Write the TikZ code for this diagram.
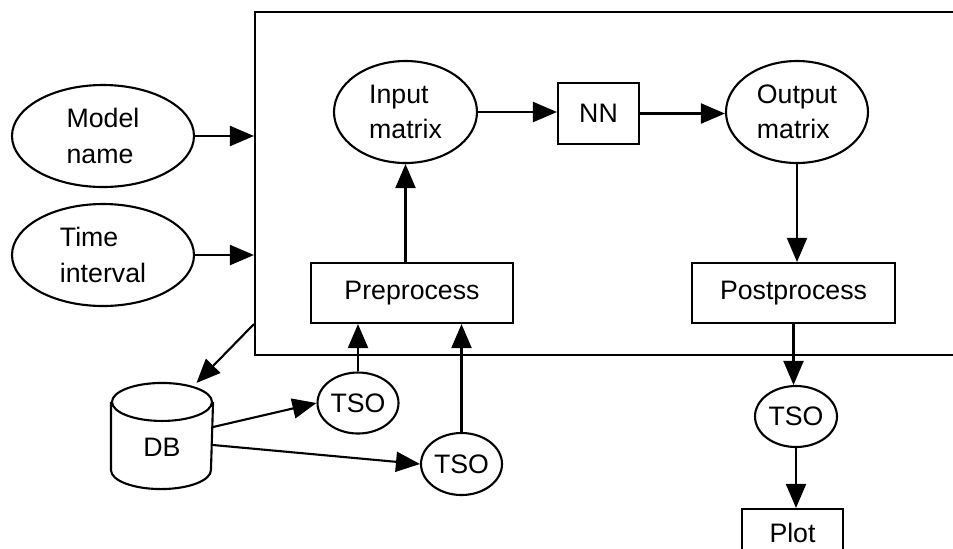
\documentclass[tikz,border=0pt]{standalone}
\usepackage{fontspec}
\setmainfont{Liberation Sans}
\usetikzlibrary{shapes.geometric,arrows.meta}

\tikzset{
  blob/.style={draw,ellipse,inner sep=0pt,align=left},
  box/.style={draw,rectangle,inner sep=0pt},
  flow/.style={-{Triangle[length=0.48cm,width=0.4cm]}},
}

\begin{document}
\begin{tikzpicture}[line width=1.2pt,font=\fontsize{15.2pt}{20pt}\selectfont]
\path[use as bounding box,clip] (0,0) rectangle (19.06,-10.96);
% the server frame, open to the right
\node[box,minimum width=14.2cm,minimum height=6.86cm] (sys) at (12.2,-3.67) {};

% inputs
\node[blob,minimum width=3.64cm,minimum height=2.04cm] (model) at (2.06,-2.72) {Model\\name};
\node[blob,minimum width=3.64cm,minimum height=2.04cm] (time) at (2.06,-5.10) {Time\\interval};

% database drum
\node[minimum width=2cm,minimum height=2.08cm] (db) at (3.24,-8.72) {};
\draw ([yshift=-0.38cm]db.north) ellipse [x radius=1cm,y radius=0.38cm];
\draw ([yshift=-0.38cm]db.north west) -- ([yshift=0.38cm]db.south west)
  arc[start angle=180,end angle=360,x radius=1cm,y radius=0.38cm]
  -- ([yshift=-0.38cm]db.north east);
\node at ([yshift=-0.22cm]db.center) (dblabel) {DB};

% inside the frame
\node[blob,minimum width=2.86cm,minimum height=2.04cm] (input) at (8.11,-2.24) {Input\\matrix};
\node[box,minimum width=1.62cm,minimum height=1.22cm] (nn) at (11.97,-2.27) {NN};
\node[blob,minimum width=2.84cm,minimum height=2.04cm] (output) at (15.94,-2.24) {Output\\matrix};
\node[box,minimum width=4.04cm,minimum height=1.2cm] (pre) at (8.24,-5.86) {Preprocess\hspace{0.4cm}};
\node[box,minimum width=4.06cm,minimum height=1.2cm] (post) at (15.87,-5.86) {Postprocess\hspace{0.26cm}};

% time series objects
\node[blob,minimum width=1.62cm,minimum height=1.22cm] (tsoA) at (7.16,-8.06) {TSO};
\node[blob,minimum width=1.62cm,minimum height=1.24cm] (tsoB) at (9.23,-9.28) {TSO};
\node[blob,minimum width=1.64cm,minimum height=1.22cm] (tsoC) at (15.92,-8.33) {TSO};
\node[box,minimum width=2.02cm,minimum height=0.94cm] (plot) at (15.85,-10.65) {Plot\hspace{0.28cm}};

\draw[flow] (model) -- (model -| sys.west);
\draw[flow] (time) -- (time -| sys.west);
\draw[flow] (sys.west |- pre.south) -- (db.57);
\draw[flow] (db.10) -- (tsoA.west);
\draw[flow] (db.-10) -- (tsoB.west);
\draw[flow] (tsoA) -- (tsoA |- pre.south);
\draw[flow] (tsoB) -- (tsoB |- pre.south);
\draw[flow] (input |- pre.north) -- (input);
\draw[flow] (input) -- (input -| nn.west);
\draw[flow] (nn) -- (nn -| output.west);
\draw[flow] (output) -- (output |- post.north);
\draw[flow] (post) -- (post |- tsoC.north);
\draw[flow] (tsoC) -- (tsoC |- plot.north);
\end{tikzpicture}
\end{document}
